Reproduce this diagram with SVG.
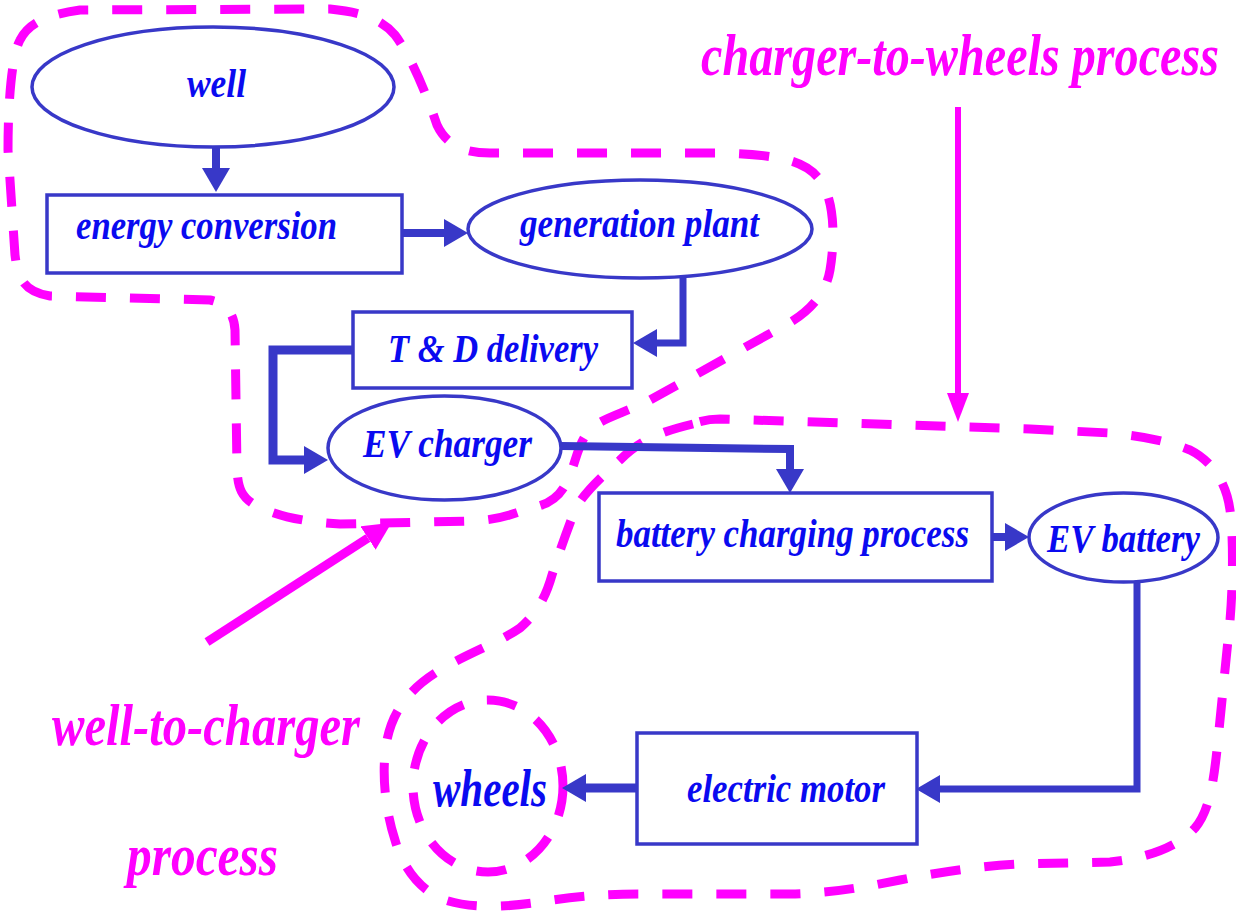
<svg xmlns="http://www.w3.org/2000/svg" width="1236" height="913" viewBox="0 0 1236 913">
<style>
.shape{fill:#fff;stroke:#3838c8;stroke-width:3.5}
.lbl{font-family:"Liberation Serif","Times New Roman",serif;font-weight:bold;font-style:italic;fill:#0a0af0;text-anchor:middle}
.mlbl{font-family:"Liberation Serif","Times New Roman",serif;font-weight:bold;font-style:italic;fill:#ff00ff;text-anchor:middle;font-size:60px}
.conn{fill:none;stroke:#3838c8;stroke-width:8}
.dash{fill:none;stroke:#ff00ff;stroke-width:9;stroke-dasharray:30 24}
.marr{fill:none;stroke:#ff00ff}
</style>
<defs>
<marker id="ah" markerUnits="userSpaceOnUse" markerWidth="26" markerHeight="30" refX="0" refY="14" orient="auto">
<path d="M0,0 L24,14 L0,28 z" fill="#3838c8"/>
</marker>
<marker id="mh" markerUnits="userSpaceOnUse" markerWidth="30" markerHeight="30" refX="0" refY="14" orient="auto">
<path d="M0,0 L28,14 L0,28 z" fill="#ff00ff"/>
</marker>
<marker id="mh2" markerUnits="userSpaceOnUse" markerWidth="30" markerHeight="24" refX="0" refY="11" orient="auto">
<path d="M0,0 L29,11 L0,22 z" fill="#ff00ff"/>
</marker>
</defs>

<g id="regions">
<path class="dash" d="M50,296 C25,292 18,280 15,255 L8,150 C8,100 12,55 20,40 C28,24 45,15 80,10 L330,9 C360,12 380,18 395,35 C410,55 425,90 437,125 C445,142 460,153 490,153 L720,153 C780,155 805,160 820,180 C835,200 835,240 830,270 C825,300 800,318 780,328 L650,400 C620,415 600,418 588,432 C578,445 576,460 570,475 C562,495 552,503 535,507 C515,512 505,520 470,521 L340,524 C300,522 270,514 252,503 C240,495 238,485 237,470 L235,330 C234,312 225,303 210,300 Z"/>
<path class="dash" d="M693,424 C660,432 640,440 620,460 C600,478 582,495 575,510 C568,528 560,550 552,575 C545,600 535,615 520,628 C500,642 470,652 440,670 C410,688 393,710 387,740 C381,770 385,810 395,840 C402,865 418,890 445,900 C470,908 500,908 540,902 C570,897 600,894 640,894 L790,894 C830,893 860,888 900,880 C940,872 980,866 1020,864 L1110,862 C1150,858 1180,845 1195,828 C1210,810 1214,780 1218,740 L1228,640 C1233,600 1234,540 1230,510 C1226,480 1210,460 1190,450 C1165,440 1140,436 1110,433 L1030,429 L720,419 C710,419 700,421 693,424 Z"/>
<ellipse class="dash" cx="488" cy="786" rx="75" ry="86"/>
</g>

<g id="connectors">
<path class="conn" d="M216,147 V168" marker-end="url(#ah)"/>
<path class="conn" d="M402,233 H444" marker-end="url(#ah)"/>
<path class="conn" style="stroke-width:7" d="M683,276 V343 H657" marker-end="url(#ah)"/>
<path class="conn" style="stroke-width:9" d="M353,350 H273 V460 H304" marker-end="url(#ah)"/>
<path class="conn" d="M561,446 L790,449 V469" marker-end="url(#ah)"/>
<path class="conn" d="M992,537 H1005" marker-end="url(#ah)"/>
<path class="conn" style="stroke-width:7" d="M1137,582 V789 H940" marker-end="url(#ah)"/>
<path class="conn" style="stroke-width:9" d="M637,788 H586" marker-end="url(#ah)"/>
<path class="marr" style="stroke-width:6" d="M958,107 V393" marker-end="url(#mh2)"/>
<path class="marr" style="stroke-width:9" d="M207,642 L368,538" marker-end="url(#mh)"/>
</g>

<g id="n-well"><ellipse class="shape" cx="213" cy="87" rx="181" ry="60"/><text class="lbl" x="216.5" y="97" font-size="41" textLength="59" lengthAdjust="spacingAndGlyphs">well</text></g>
<g id="n-energy"><rect class="shape" x="47" y="195" width="355" height="78"/><text class="lbl" x="206.5" y="239" font-size="41" textLength="261" lengthAdjust="spacingAndGlyphs">energy conversion</text></g>
<g id="n-gen"><ellipse class="shape" cx="640" cy="229" rx="172" ry="49"/><text class="lbl" x="639.5" y="237" font-size="39" textLength="239" lengthAdjust="spacingAndGlyphs">generation plant</text></g>
<g id="n-td"><rect class="shape" x="353" y="312" width="279" height="76"/><text class="lbl" x="493" y="362" font-size="41" textLength="210" lengthAdjust="spacingAndGlyphs">T &amp; D delivery</text></g>
<g id="n-evc"><ellipse class="shape" cx="444.5" cy="448" rx="116.5" ry="52"/><text class="lbl" x="447.5" y="457" font-size="41" textLength="169" lengthAdjust="spacingAndGlyphs">EV charger</text></g>
<g id="n-bcp"><rect class="shape" x="599" y="493" width="393" height="88"/><text class="lbl" x="792.5" y="547" font-size="39" textLength="353" lengthAdjust="spacingAndGlyphs">battery charging process</text></g>
<g id="n-evb"><ellipse class="shape" cx="1123.5" cy="537.5" rx="94.5" ry="44.5"/><text class="lbl" x="1123.5" y="552" font-size="40" textLength="153" lengthAdjust="spacingAndGlyphs">EV battery</text></g>
<g id="n-motor"><rect class="shape" x="637" y="733" width="280" height="111"/><text class="lbl" x="786" y="802" font-size="39" textLength="198" lengthAdjust="spacingAndGlyphs">electric motor</text></g>
<g id="n-wheels"><text class="lbl" x="490" y="806" font-size="52" textLength="114" lengthAdjust="spacingAndGlyphs">wheels</text></g>

<g id="labels">
<text class="mlbl" x="960" y="75" textLength="518" lengthAdjust="spacingAndGlyphs">charger-to-wheels process</text>
<text class="mlbl" x="206" y="745" textLength="308" lengthAdjust="spacingAndGlyphs">well-to-charger</text>
<text class="mlbl" x="202.5" y="875" textLength="151" lengthAdjust="spacingAndGlyphs">process</text>
</g>
</svg>
